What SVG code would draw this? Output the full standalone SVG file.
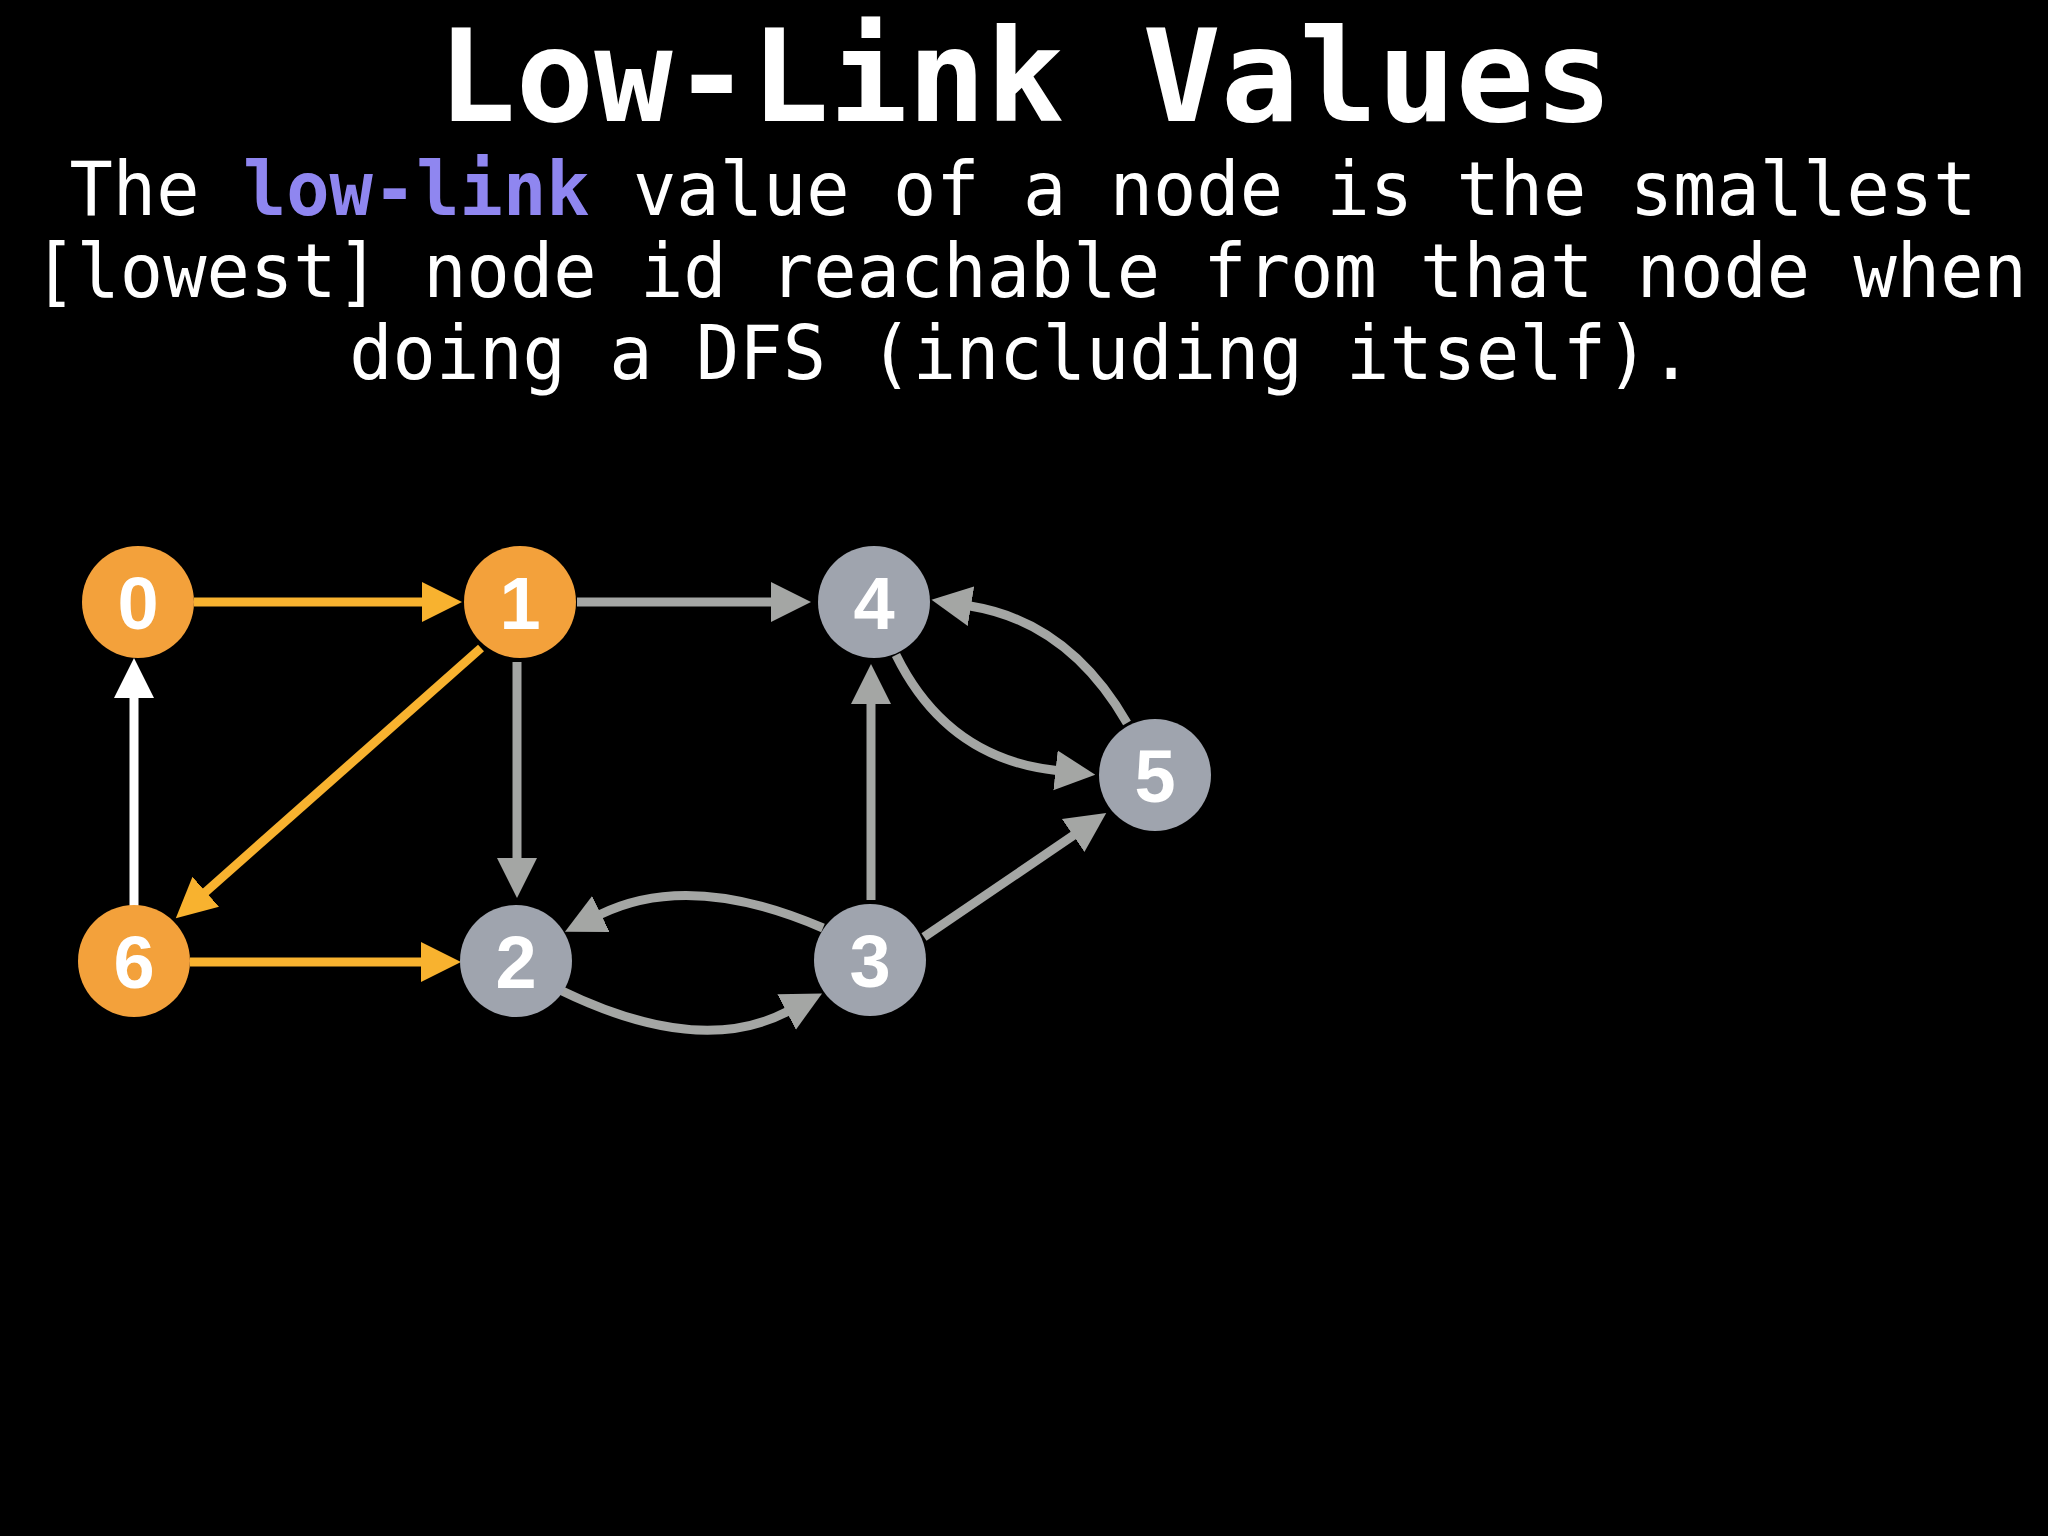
<svg xmlns="http://www.w3.org/2000/svg" width="2048" height="1536" viewBox="0 0 2048 1536">
<style>
.title{font-family:"DejaVu Sans Mono","Liberation Mono",monospace;font-weight:bold;font-size:128px;fill:#ffffff;text-anchor:middle}
.sub{font-family:"DejaVu Sans Mono","Liberation Mono",monospace;font-size:72px;fill:#ffffff;text-anchor:middle}
.hl{font-weight:bold;fill:#8F86F0}
.lbl{font-family:"Liberation Sans",Arial,sans-serif;font-weight:bold;font-size:74px;fill:#ffffff;text-anchor:middle}
.orange{fill:#F3A13B}
.grey{fill:#9FA4AE}
.e{fill:none;stroke-width:9}
.eo{stroke:#F8B22F}
.eg{stroke:#A4A6A4}
.ew{stroke:#ffffff}
</style>
<defs>
<marker id="ao" markerUnits="userSpaceOnUse" markerWidth="42" markerHeight="44" viewBox="0 -22 42 44" refX="1" refY="0" orient="auto"><path d="M0,-20 L40,0 L0,20 Z" fill="#F8B22F"/></marker>
<marker id="ag" markerUnits="userSpaceOnUse" markerWidth="42" markerHeight="44" viewBox="0 -22 42 44" refX="1" refY="0" orient="auto"><path d="M0,-20 L40,0 L0,20 Z" fill="#A4A6A4"/></marker>
<marker id="aw" markerUnits="userSpaceOnUse" markerWidth="42" markerHeight="44" viewBox="0 -22 42 44" refX="1" refY="0" orient="auto"><path d="M0,-20 L40,0 L0,20 Z" fill="#ffffff"/></marker>
</defs>
<rect width="2048" height="1536" fill="#000000"/>
<g id="heading">
<text class="title" x="1025" y="121" textLength="1175" lengthAdjust="spacingAndGlyphs">Low-Link Values</text>
<text class="sub" transform="translate(1023,215) scale(1,1.045)">The <tspan class="hl">low-link</tspan> value of a node is the smallest</text>
<text class="sub" transform="translate(1030,297) scale(1,1.045)">[lowest] node id reachable from that node when</text>
<text class="sub" transform="translate(1021,379) scale(1,1.045)">doing a DFS (including itself).</text>
</g>
<g id="connectors">
<path class="e eo" d="M194,602 L423,602" marker-end="url(#ao)"/>
<path class="e eg" d="M577,602 L772,602" marker-end="url(#ag)"/>
<path class="e eg" d="M517,662 L517,859" marker-end="url(#ag)"/>
<path class="e ew" d="M134,906 L134,697" marker-end="url(#aw)"/>
<path class="e eo" d="M190,962 L422,962" marker-end="url(#ao)"/>
<path class="e eg" d="M871,900 L871,703" marker-end="url(#ag)"/>
<path class="e eo" d="M481,648 L205,892.5" marker-end="url(#ao)"/>
<path class="e eg" d="M924,937 L1074,835" marker-end="url(#ag)"/>
<path class="e eg" d="M823,928 Q690,870.5 600,914.5" marker-end="url(#ag)"/>
<path class="e eg" d="M560,990 Q699,1057.75 787.5,1011.5" marker-end="url(#ag)"/>
<path class="e eg" d="M896,655 Q947,758.6 1056.5,770.5" marker-end="url(#ag)"/>
<path class="e eg" d="M1127,723 Q1068.7,622 970,606" marker-end="url(#ag)"/>
</g>
<g id="node0"><circle class="orange" cx="138" cy="602" r="56"/><text class="lbl" x="138" y="629">0</text></g>
<g id="node1"><circle class="orange" cx="520" cy="602" r="56"/><text class="lbl" x="520" y="629">1</text></g>
<g id="node4"><circle class="grey" cx="874" cy="602" r="56"/><text class="lbl" x="874" y="629">4</text></g>
<g id="node5"><circle class="grey" cx="1155" cy="775" r="56"/><text class="lbl" x="1155" y="802">5</text></g>
<g id="node6"><circle class="orange" cx="134" cy="961" r="56"/><text class="lbl" x="134" y="988">6</text></g>
<g id="node2"><circle class="grey" cx="516" cy="961" r="56"/><text class="lbl" x="516" y="988">2</text></g>
<g id="node3"><circle class="grey" cx="870" cy="960" r="56"/><text class="lbl" x="870" y="987">3</text></g>
</svg>
